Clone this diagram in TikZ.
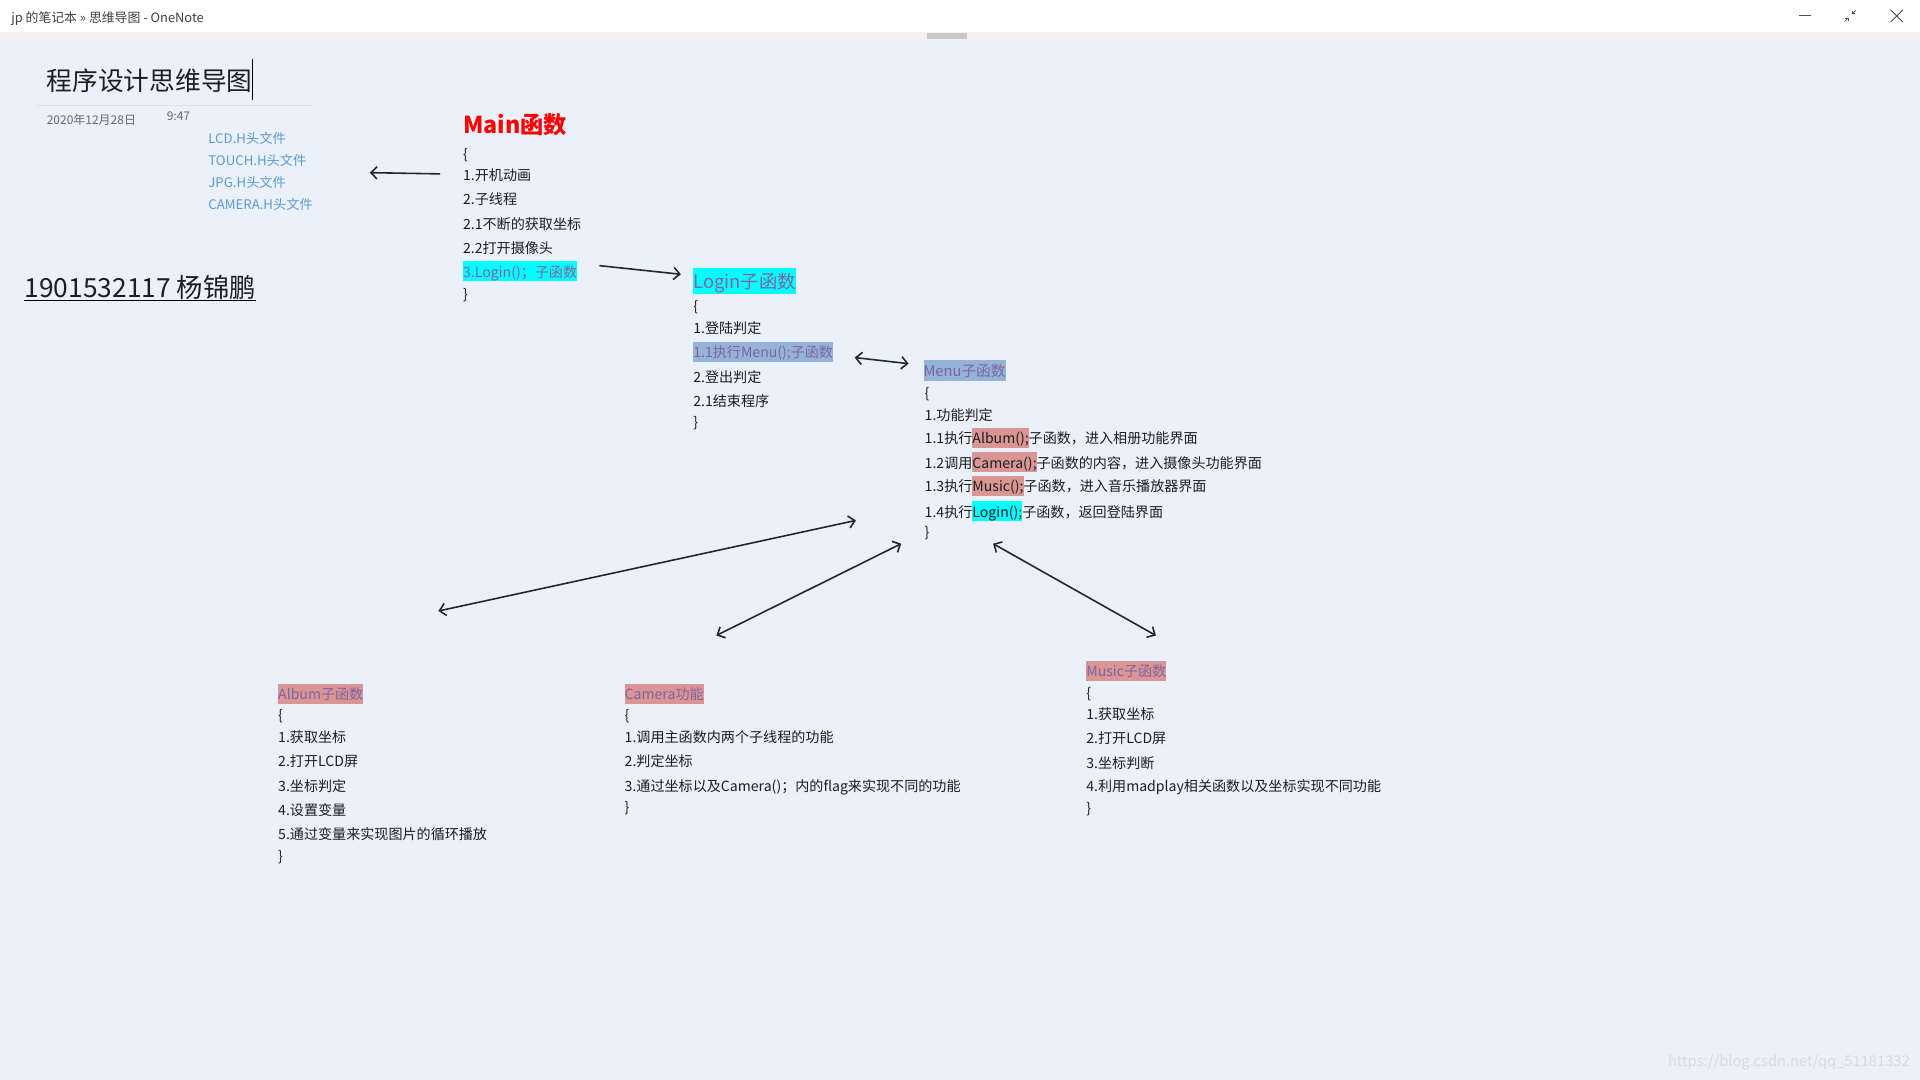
\documentclass[tikz,border=0pt]{standalone}
\usepackage{fontspec}
\setmainfont{Noto Sans CJK SC}
\usetikzlibrary{arrows.meta}
\definecolor{pagebg}{RGB}{235,241,250}
\definecolor{barband}{RGB}{243,242,241}
\definecolor{thumb}{RGB}{200,200,200}
\definecolor{hlcyan}{RGB}{0,255,255}
\definecolor{hlblue}{RGB}{149,179,215}
\definecolor{hlred}{RGB}{218,150,148}
\definecolor{fnpurple}{RGB}{128,100,162}
\definecolor{hdrblue}{RGB}{91,155,213}
\definecolor{inktext}{RGB}{30,30,30}
\definecolor{dategray}{RGB}{105,105,105}
\definecolor{markgray}{RGB}{212,219,229}
\newcommand{\hlbox}[2]{{\setlength{\fboxsep}{0pt}\colorbox{#1}{\rule[-0.3em]{0pt}{1.42em}#2}}}

\begin{document}
\begin{tikzpicture}[x=1pt, y=-1pt,
  every node/.style={anchor=west, inner sep=0pt, text height=1.1em, text depth=0.04em,
    text=inktext, font=\fontsize{11.5}{14}\selectfont},
  fnhead/.style={text=fnpurple},
  hdrfile/.style={text=hdrblue, font=\fontsize{10.8}{13}\selectfont},
  stamp/.style={text=dategray, font=\fontsize{9.8}{11}\selectfont},
  ink/.style={line width=1.3pt, draw=black!85, line cap=round},
  >={Straight Barb[length=5pt,width=10pt]}]
\useasboundingbox (0,0) rectangle (1568,882);
\fill[pagebg] (0,0) rectangle (1568,882);
\fill[white] (0,0) rectangle (1568,26);
\fill[barband] (0,26) rectangle (1568,33);
\fill[thumb] (757,27) rectangle (790,32);

% window bar
\node[text=black!75, font=\fontsize{10.5}{12}\selectfont] (apptitle) at (9,13) {jp 的笔记本 » 思维导图 - OneNote};
\draw[black!70, line width=0.7pt] (1469,13) -- (1479,13);
\draw[black!70, line width=0.7pt, ->, >={Straight Barb[length=1.5pt,width=3pt]}] (1506.5,17.5) -- (1509.5,14.5);
\draw[black!70, line width=0.7pt, ->, >={Straight Barb[length=1.5pt,width=3pt]}] (1515.5,8.5) -- (1512.5,11.5);
\draw[black!70, line width=0.7pt] (1544,8) -- (1554,18) (1544,18) -- (1554,8);

% page header
\node[font=\fontsize{21}{25}\selectfont] (pagetitle) at (38,69) {程序设计思维导图};
\draw[black, line width=0.8pt] (206,48) -- (206,82);
\draw[black!12, line width=0.8pt] (30,86) -- (255,86);
\node[stamp] (date) at (38,96) {2020年12月28日};
\node[stamp] (time) at (136,93) {9:47};
\foreach \h [count=\i] in {LCD.H头文件, TOUCH.H头文件, JPG.H头文件, CAMERA.H头文件}
  \node[hdrfile] (hdr\i) at (170,94+18*\i) {\h};
\node[font=\fontsize{21.5}{25}\selectfont] (student) at (20,238) {1901532117 杨锦鹏};
\draw[line width=1.3pt] ([yshift=-1.5pt]student.south west) -- ([yshift=-1.5pt]student.south east);

% Main
\node[text=red, font=\bfseries\fontsize{19}{22}\selectfont] (mainhead) at (378,104) {Main函数};
\foreach \t/\y [count=\i] in {\{/125, 1.开机动画/142, 2.子线程/162, 2.1不断的获取坐标/182,
    2.2打开摄像头/202, \hlbox{hlcyan}{\color{fnpurple}3.Login()；子函数}/221, \}/239}
  \node (main\i) at (378,\y) {\t};

% Login
\node[fnhead, font=\fontsize{15}{18}\selectfont] (loginhead) at (566,230) {\hlbox{hlcyan}{Login子函数}};
\foreach \t/\y [count=\i] in {\{/249, 1.登陆判定/267, \hlbox{hlblue}{\color{fnpurple}1.1执行Menu();子函数}/287,
    2.登出判定/307, 2.1结束程序/327, \}/344}
  \node (login\i) at (566,\y) {\t};

% Menu
\node[fnhead, font=\fontsize{12}{14}\selectfont] (menuhead) at (754,302) {\hlbox{hlblue}{Menu子函数}};
\foreach \t/\y [count=\i] in {\{/320, 1.功能判定/338,
    1.1执行\hlbox{hlred}{Album();}子函数，进入相册功能界面/357,
    1.2调用\hlbox{hlred}{Camera();}子函数的内容，进入摄像头功能界面/377,
    1.3执行\hlbox{hlred}{Music();}子函数，进入音乐播放器界面/396,
    1.4执行\hlbox{hlcyan}{Login();}子函数，返回登陆界面/417, \}/434}
  \node (menu\i) at (755,\y) {\t};

% Album
\node[fnhead] (albumhead) at (227,566) {\hlbox{hlred}{Album子函数}};
\foreach \t/\y [count=\i] in {\{/583, 1.获取坐标/601, 2.打开LCD屏/621, 3.坐标判定/641,
    4.设置变量/661, 5.通过变量来实现图片的循环播放/680, \}/698}
  \node (album\i) at (227,\y) {\t};

% Camera
\node[fnhead] (camerahead) at (510,566) {\hlbox{hlred}{Camera功能}};
\foreach \t/\y [count=\i] in {\{/583, 1.调用主函数内两个子线程的功能/601, 2.判定坐标/621,
    3.通过坐标以及Camera()；内的flag来实现不同的功能/641, \}/658}
  \node (camera\i) at (510,\y) {\t};

% Music
\node[fnhead] (musichead) at (887,547) {\hlbox{hlred}{Music子函数}};
\foreach \t/\y [count=\i] in {\{/565, 1.获取坐标/582, 2.打开LCD屏/602, 3.坐标判断/622,
    4.利用madplay相关函数以及坐标实现不同功能/641, \}/659}
  \node (music\i) at (887,\y) {\t};

% ink arrows
\coordinate (mainL) at (359,142);
\coordinate (hdrR) at (302,141);
\coordinate (mainR) at (490,217);
\coordinate (loginL) at (556,224);
\coordinate (loginR) at (698,292);
\coordinate (menuL) at (742,297);
\coordinate (menuA) at (699,425);
\coordinate (albumT) at (358,499);
\coordinate (menuC) at (736,444);
\coordinate (cameraT) at (585,519);
\coordinate (menuM) at (811,444);
\coordinate (musicT) at (944,519);
\draw[ink, ->] (mainL) -- (hdrR);
\draw[ink, ->] (mainR) -- (loginL);
\draw[ink, <->] (loginR) -- (menuL);
\draw[ink, <->] (albumT) -- (menuA);
\draw[ink, <->] (cameraT) -- (menuC);
\draw[ink, <->] (menuM) -- (musicT);

\node[text=markgray, font=\fontsize{12}{14}\selectfont] (mark) at (1362,866) {https://blog.csdn.net/qq\_51181332};
\end{tikzpicture}
\end{document}
